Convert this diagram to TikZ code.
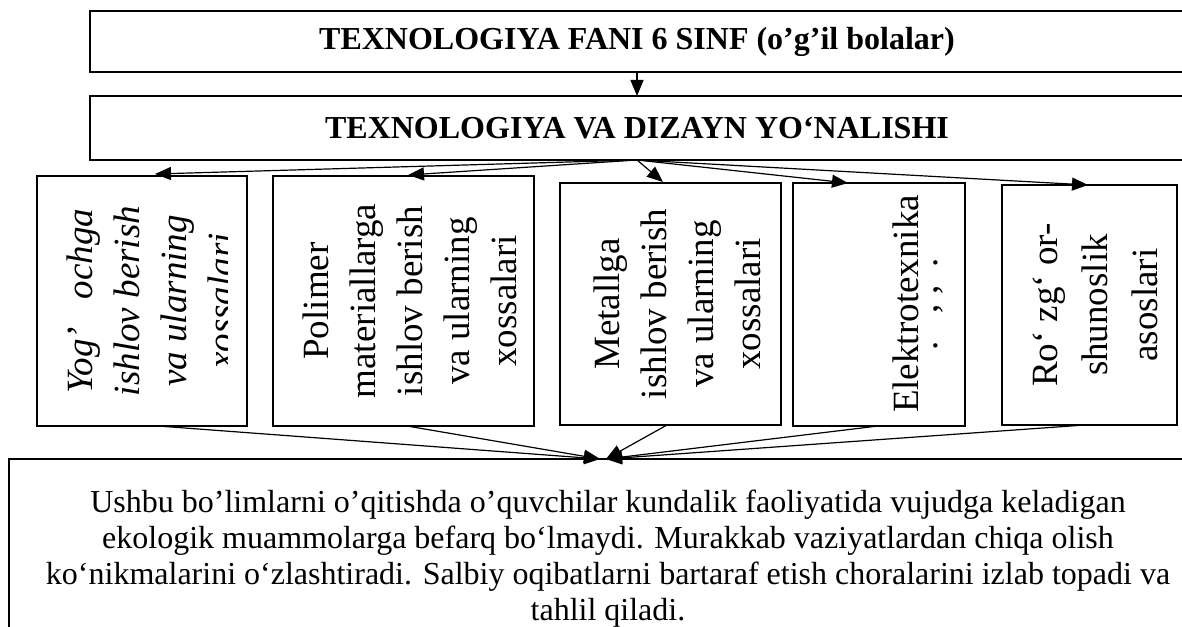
\documentclass[tikz,border=0pt]{standalone}
\usepackage{fontspec}
\setmainfont{Liberation Serif}
\usetikzlibrary{arrows.meta,calc}
\begin{document}
\begin{tikzpicture}[x=0.5pt,y=-0.5pt,
  box/.style={draw, line width=1pt, inner sep=0pt, outer sep=0pt, anchor=north west},
  ttl/.style={font=\fontsize{16}{18}\selectfont\bfseries},
  vtext/.style={rotate=90, align=center, inner sep=0pt, font=\fontsize{18.5}{23.5}\selectfont},
  arr/.style={-{Triangle[length=8pt,width=6.5pt]}, line width=0.6pt}]
\useasboundingbox (0,0) rectangle (1182,626);
\clip (0,0) rectangle (1182,626);
% boxes
\node[box, minimum width=547pt, minimum height=30.5pt, ttl] (T) at (90,11) {TEXNOLOGIYA FANI 6 SINF (o’g’il bolalar)};
\node[box, minimum width=547pt, minimum height=32pt, ttl] (D) at (90,96) {TEXNOLOGIYA VA DIZAYN YO‘NALISHI};
\node[box, minimum width=105pt, minimum height=125pt] (b1) at (37,176) {};
\node[box, minimum width=130.5pt, minimum height=125pt] (b2) at (273,176) {};
\node[box, minimum width=110.5pt, minimum height=121pt] (b3) at (560,183) {};
\node[box, minimum width=86pt, minimum height=121.5pt] (b4) at (793,183) {};
\node[box, minimum width=87.5pt, minimum height=120pt] (b5) at (1002,185) {};
\node[box, minimum width=600pt, minimum height=100pt] (B) at (9,459) {};
% box texts
\begin{scope}
\clip (37,176) rectangle (227,426);
\node[vtext, font=\fontsize{18.5}{23.5}\selectfont\itshape] (t1) at (150,301) {Yog’\ \ \ ochga\\ishlov berish\\va ularning\\xossalari};
\end{scope}
\node[vtext] (t2) at (410,301) {Polimer\\materiallarga\\ishlov berish\\va ularning\\xossalari};
\node[vtext] (t3) at (677,304) {Metallga\\ishlov berish\\va ularning\\xossalari};
\node[vtext] (t4) at (906,304) {Elektrotexnika};
\node[vtext] (t4b) at (938,304) {.\ \ \ ,\ ,\ \ .};
\node[vtext, font=\fontsize{18.5}{25}\selectfont] (t5) at (1095,305) {Ro‘ zg‘ or-\\shunoslik\\asoslari};
\node[align=center, inner sep=0pt, font=\fontsize{16}{18}\selectfont] (tb) at (608,559) {Ushbu bo’limlarni o’qitishda o’quvchilar kundalik faoliyatida vujudga keladigan\\ekologik muammolarga befarq bo‘lmaydi. Murakkab vaziyatlardan chiqa olish\\ko‘nikmalarini o‘zlashtiradi. Salbiy oqibatlarni bartaraf etish choralarini izlab topadi va\\tahlil qiladi.};
% connectors
\draw[arr] (T.south) -- (D.north);
\draw[arr] (D.south) -- ([xshift=59pt,yshift=1pt]b1.north west);
\draw[arr] (D.south) -- ([xshift=67.5pt,yshift=0.5pt]b2.north west);
\draw[arr] (D.south) -- ([xshift=51.5pt,yshift=0.5pt]b3.north west);
\draw[arr] (D.south) -- ([xshift=27.5pt]b4.north west);
\draw[arr] (D.south) -- ([xshift=43pt]b5.north west);
\draw[arr] ([xshift=60.5pt]b1.south west) -- ([xshift=295.5pt]B.north west);
\draw[arr] ([xshift=67pt]b2.south west) -- ([xshift=295.5pt]B.north west);
\draw[arr] ([xshift=53.5pt]b3.south west) -- ([xshift=298.5pt]B.north west);
\draw[arr] ([xshift=42.5pt]b4.south west) -- ([xshift=298.5pt]B.north west);
\draw[arr] ([xshift=41.5pt]b5.south west) -- ([xshift=298.5pt]B.north west);
\end{tikzpicture}
\end{document}
